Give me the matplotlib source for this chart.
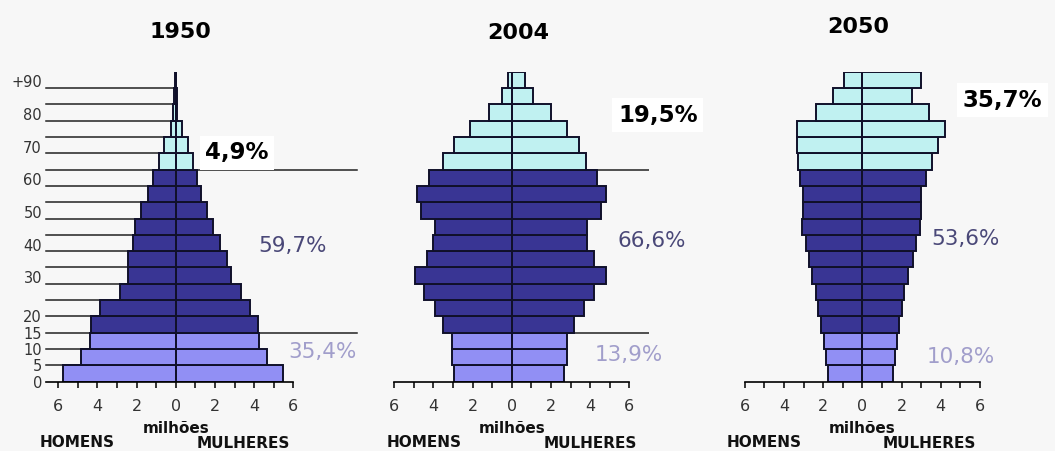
import matplotlib as mpl
import matplotlib.pyplot as plt
import numpy as np

mpl.rcParams['font.family'] = ['DejaVu Sans']

# age groups 0-4 ... 85-89, 90+ (million people)
ages = np.arange(0, 95, 5)
years = ['1950', '2004', '2050']
men_1950 = [5.75, 4.81, 4.39, 4.32, 3.88, 2.83, 2.41, 2.41, 2.19, 2.07, 1.76, 1.42, 1.14, 0.83, 0.58, 0.25, 0.15, 0.07, 0.02]
women_1950 = [5.49, 4.67, 4.24, 4.19, 3.81, 3.33, 2.82, 2.62, 2.24, 1.90, 1.59, 1.30, 1.08, 0.87, 0.65, 0.31, 0.09, 0.05, 0.02]
men_2004 = [2.93, 3.06, 3.06, 3.52, 3.91, 4.46, 4.93, 4.34, 4.03, 3.91, 4.64, 4.81, 4.22, 3.49, 2.93, 2.13, 1.14, 0.51, 0.20]
women_2004 = [2.69, 2.84, 2.84, 3.20, 3.71, 4.20, 4.80, 4.20, 3.83, 3.83, 4.56, 4.80, 4.34, 3.78, 3.44, 2.84, 2.01, 1.11, 0.68]
men_2050 = [1.74, 1.87, 1.96, 2.09, 2.24, 2.37, 2.58, 2.74, 2.88, 3.09, 3.04, 3.04, 3.16, 3.29, 3.34, 3.34, 2.37, 1.49, 0.95]
women_2050 = [1.58, 1.67, 1.79, 1.87, 2.01, 2.14, 2.35, 2.57, 2.72, 2.94, 2.99, 2.99, 3.23, 3.57, 3.88, 4.22, 3.42, 2.55, 2.99]
pct_old = ['4,9%', '19,5%', '35,7%']
pct_adult = ['59,7%', '66,6%', '53,6%']
pct_young = ['35,4%', '13,9%', '10,8%']
ytick_labels = ['0', '5', '10', '15', '20', '30', '40', '50', '60', '70', '80', '+90']

men = [men_1950, men_2004, men_2050]
women = [women_1950, women_2004, women_2050]

c_young = '#918ff4'
c_adult = '#393594'
c_old = '#c0f1f1'
c_edge = '#10102a'
bg = '#f7f7f7'
colors = [c_young if a < 15 else (c_adult if a < 65 else c_old) for a in ages]

fig = plt.figure(figsize=(10.55, 4.51), dpi=100, facecolor=bg)

# panel layout (axes left in figure fraction), positions of annotations
lefts = [0.0365, 0.355, 0.6873]
title_pos = [(0.22, 107.2), (0.32, 106.9), (-0.22, 108.7)]
old_pos = [(1.5, 70.1), (5.42, 81.7), (5.11, 86.3)]
adult_pos = [(4.19, 41.6), (5.38, 43.1), (3.54, 43.7)]
young_pos = [(5.73, 9.1), (4.25, 8.2), (3.28, 7.6)]
sex_pos = [(-5.04, 3.43), (-4.47, 3.99), (-5.0, 3.44)]

for i in range(3):
    ax = fig.add_axes([lefts[i], 0.1537, 0.2601, 0.6874])
    ax.set_facecolor('none')
    ax.set_xlim(-7, 7)
    ax.set_ylim(0, 95)

    ax.barh(ages, -np.array(men[i]), height=5, align='edge', color=colors,
            edgecolor=c_edge, linewidth=1.4, zorder=3)
    ax.barh(ages, women[i], height=5, align='edge', color=colors,
            edgecolor=c_edge, linewidth=1.4, zorder=3)
    ax.plot([0, 0], [0, 95], color=c_edge, lw=1.3, zorder=4)

    for s in ['top', 'right', 'left']:
        ax.spines[s].set_visible(False)
    ax.spines['bottom'].set_linewidth(1.2)
    ax.spines['bottom'].set_zorder(5)
    ax.set_xticks(range(-6, 7))
    ax.set_xticklabels([str(abs(v)) if v % 2 == 0 else '' for v in range(-6, 7)])
    ax.tick_params(axis='x', direction='out', length=4, width=1.1, pad=8.5,
                   labelsize=11.5, labelcolor='#333333')

    if i == 0:
        ax.spines['bottom'].set_bounds(-6.6, 6)
        ax.set_yticks([0, 5, 10, 15, 20, 32, 42, 52, 62, 72, 82, 92])
        ax.set_yticklabels(ytick_labels)
        ax.tick_params(axis='y', length=0, pad=-2.5, labelsize=10.5,
                       labelcolor='#333333')
        for a in ages[1:]:
            ax.plot([-6.6, 0], [a, a], color='#222222', lw=1.1, zorder=1)
        for a in [15, 65]:
            ax.plot([0, 9.25], [a, a], color='#222222', lw=1.1, zorder=1,
                    clip_on=False)
    else:
        ax.spines['bottom'].set_bounds(-6, 6)
        ax.set_yticks([])
        if i == 1:
            ax.plot([0, 7.36], [15, 15], color='#222222', lw=1.1, zorder=1)
            ax.plot([0, 7.0], [65, 65], color='#222222', lw=1.1, zorder=1)

    ax.text(title_pos[i][0], title_pos[i][1], years[i], ha='center', va='center',
            fontsize=16, fontweight='bold', color='black', clip_on=False)
    ax.text(old_pos[i][0], old_pos[i][1], pct_old[i], ha='left', va='center',
            fontsize=16.5, fontweight='bold', color='black', clip_on=False,
            bbox=dict(facecolor='white', edgecolor='none', pad=4), zorder=6)
    ax.text(adult_pos[i][0], adult_pos[i][1], pct_adult[i], ha='left', va='center',
            fontsize=15.5, color='#4a4878', clip_on=False)
    ax.text(young_pos[i][0], young_pos[i][1], pct_young[i], ha='left', va='center',
            fontsize=15.5, color='#a19ecb', clip_on=False)
    ax.text(0, -14.2, 'milhões', ha='center', va='center', fontsize=11,
            fontweight='bold', color='#111111', clip_on=False)
    ax.text(sex_pos[i][0], -18.6, 'HOMENS', ha='center', va='center', fontsize=11,
            fontweight='bold', color='#111111', clip_on=False)
    ax.text(sex_pos[i][1], -18.9, 'MULHERES', ha='center', va='center', fontsize=11,
            fontweight='bold', color='#111111', clip_on=False)

fig.savefig('out.png', dpi=100, facecolor=bg)
